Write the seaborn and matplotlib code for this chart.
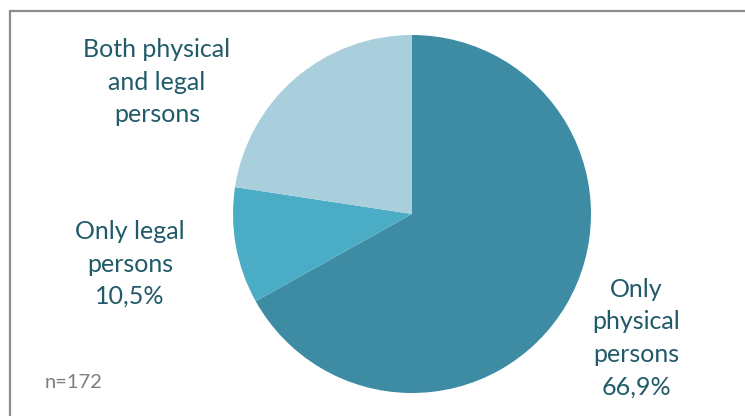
import matplotlib
matplotlib.use("Agg")
import matplotlib.pyplot as plt
import seaborn as sns
from matplotlib.lines import Line2D

# data
categories = ["Only physical persons", "Only legal persons", "Both physical and legal persons"]
shares = [66.9, 10.5, 22.6]
label_text = ["Only\nphysical\npersons\n66,9%", "Only legal\npersons\n10,5%", "Both physical\nand legal\npersons"]
sample_note = "n=172"

sns.set_theme(style="white")
plt.rcParams['font.family'] = ['Lato', 'DejaVu Sans']

colors = ["#3d8ca4", "#4bacc6", "#a9cfdd"]
text_color = "#215a69"

fig = plt.figure(figsize=(7.45, 4.16), dpi=100)
ax = fig.add_axes([0, 0, 1, 1])

ax.pie(shares, colors=colors, startangle=90, counterclock=False,
       center=(412, 202), radius=179, frame=True,
       wedgeprops=dict(linewidth=0))
ax.set_xlim(0, 745)
ax.set_ylim(0, 416)
ax.set_aspect("equal")
ax.axis("off")

# labels placed like the original
label_pos = [(636, 78), (130, 152), (157, 334)]
for txt, (x, y) in zip(label_text, label_pos):
    ax.text(x, y, txt, ha="center", va="center", fontsize=18,
            color=text_color, linespacing=1.5)

ax.text(45, 33, sample_note, ha="left", va="center", fontsize=14.5, color="#7f7f7f")

# chart frame (top and left edges visible)
fig.add_artist(Line2D([9.5 / 745, 1], [1 - 10.5 / 416, 1 - 10.5 / 416],
                      transform=fig.transFigure, color="#8c8c8c", lw=1.6))
fig.add_artist(Line2D([9.5 / 745, 9.5 / 745], [0, 1 - 10.5 / 416],
                      transform=fig.transFigure, color="#8c8c8c", lw=1.6))

fig.savefig("out.png", dpi=100)
